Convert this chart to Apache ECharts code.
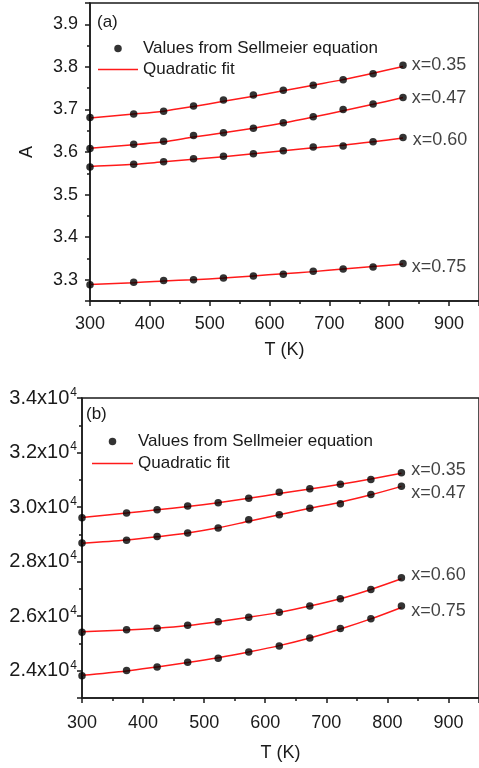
<!DOCTYPE html>
<html>
<head>
<meta charset="utf-8">
<script src="https://cdn.jsdelivr.net/npm/echarts@6/dist/echarts.min.js"></script>
<style>
  html, body { margin: 0; padding: 0; background: #fff; }
  #main { width: 479px; height: 768px; }
</style>
</head>
<body>
<div id="main"></div>
<script>
var T = [300, 373, 423, 473, 523, 573, 623, 673, 723, 773, 823];
var compositions = ['x=0.35', 'x=0.47', 'x=0.60', 'x=0.75'];

// panel (a): A
var aPts35 = [3.681, 3.689, 3.696, 3.708, 3.722, 3.734, 3.745, 3.757, 3.770, 3.784, 3.804];
var aPts47 = [3.608, 3.618, 3.625, 3.639, 3.645, 3.656, 3.669, 3.683, 3.700, 3.713, 3.728];
var aPts60 = [3.565, 3.571, 3.577, 3.584, 3.590, 3.596, 3.603, 3.612, 3.614, 3.624, 3.634];
var aPts75 = [3.288, 3.294, 3.298, 3.300, 3.304, 3.309, 3.313, 3.320, 3.325, 3.330, 3.338];
var aFit35 = [3.680, 3.689, 3.696, 3.707, 3.719, 3.731, 3.744, 3.757, 3.770, 3.785, 3.801];
var aFit47 = [3.609, 3.617, 3.624, 3.635, 3.645, 3.656, 3.668, 3.682, 3.697, 3.712, 3.728];
var aFit60 = [3.566, 3.571, 3.577, 3.583, 3.589, 3.596, 3.603, 3.610, 3.616, 3.624, 3.633];
var aFit75 = [3.289, 3.293, 3.297, 3.300, 3.304, 3.309, 3.314, 3.319, 3.325, 3.331, 3.337];

// panel (b)
var bPts35 = [29610, 29780, 29900, 30040, 30160, 30320, 30540, 30670, 30840, 31010, 31260];
var bPts47 = [28680, 28780, 28920, 29050, 29230, 29540, 29720, 29960, 30120, 30460, 30760];
var bPts60 = [25410, 25500, 25560, 25670, 25800, 25960, 26140, 26370, 26640, 26980, 27410];
var bPts75 = [23820, 24010, 24140, 24310, 24460, 24690, 24910, 25200, 25550, 25910, 26370];
var bFit35 = [29620, 29780, 29900, 30020, 30160, 30320, 30500, 30660, 30840, 31030, 31240];
var bFit47 = [28670, 28790, 28910, 29050, 29240, 29480, 29720, 29960, 30180, 30450, 30760];
var bFit60 = [25430, 25490, 25560, 25660, 25800, 25960, 26140, 26370, 26640, 26980, 27370];
var bFit75 = [23830, 23990, 24140, 24300, 24480, 24690, 24920, 25200, 25530, 25900, 26320];

var ptsName = 'Values from Sellmeier equation';
var fitName = 'Quadratic fit';
var ink = '#1a1a1a';
var red = '#ff1a1a';
var font = 'Liberation Sans';

function pairs(ys) {
    return T.map(function (t, i) { return [t, ys[i]]; });
}

function fitSeries(idx, ys) {
    return {
        name: fitName, type: 'line', xAxisIndex: idx, yAxisIndex: idx,
        data: pairs(ys), smooth: 0.3, symbol: 'none',
        lineStyle: { color: red, width: 1.5 },
        itemStyle: { color: red }, z: 2
    };
}

function ptsSeries(idx, ys, label, dy, dist) {
    return {
        name: ptsName, type: 'scatter', xAxisIndex: idx, yAxisIndex: idx,
        data: pairs(ys), symbolSize: 7.5,
        itemStyle: { color: '#000' }, z: 3,
        label: {
            show: true, position: 'right', distance: dist, offset: [0, dy],
            color: '#111', fontFamily: font, fontSize: 18,
            formatter: function (p) { return p.dataIndex === T.length - 1 ? label : ''; }
        }
    };
}

function xAxis(idx, margin, nameGap) {
    return {
        gridIndex: idx, type: 'value', min: 300, max: 950, interval: 100,
        name: 'T (K)', nameLocation: 'middle', nameGap: nameGap,
        nameTextStyle: { color: ink, fontFamily: font, fontSize: 18 },
        axisLine: { onZero: false, lineStyle: { color: ink, width: 1.5 } },
        axisTick: { inside: false, length: 5, lineStyle: { color: ink, width: 1.5 } },
        minorTick: { show: true, splitNumber: 2, length: 3, lineStyle: { color: ink, width: 1.5 } },
        axisLabel: { color: ink, fontFamily: font, fontSize: 18, margin: margin, showMaxLabel: false },
        splitLine: { show: false }
    };
}

function legend(left, top, width, gap) {
    return {
        data: [
            { name: ptsName, icon: 'circle' },
            { name: fitName, icon: 'path://M0,0H80V3H0Z' }
        ],
        orient: 'vertical', left: left, top: top, padding: 0,
        itemWidth: width, itemHeight: 7.5, itemGap: gap,
        textStyle: { color: ink, fontFamily: font, fontSize: 17 },
        selectedMode: false
    };
}

var myChart = echarts.init(document.getElementById('main'));
var option = {
    animation: false,
    backgroundColor: '#fff',
    title: [
        { text: '(a)', left: 92, top: 9, textStyle: { color: ink, fontFamily: font, fontSize: 17, fontWeight: 'normal' } },
        { text: '(b)', left: 81, top: 401, textStyle: { color: ink, fontFamily: font, fontSize: 17, fontWeight: 'normal' } }
    ],
    legend: [legend(98, 40, 40, 4), legend(92, 433, 41, 5)],
    grid: [
        { left: 90, right: -2, top: 3, bottom: 467, show: true, borderColor: ink, borderWidth: 1.5 },
        { left: 82, right: -5, top: 398, bottom: 70, show: true, borderColor: ink, borderWidth: 1.5 }
    ],
    xAxis: [xAxis(0, 14, 40), xAxis(1, 16, 46)],
    yAxis: [
        {
            gridIndex: 0, type: 'value', min: 3.25, max: 3.95, splitNumber: 7,
            name: 'A', nameLocation: 'middle', nameGap: 54, nameRotate: 90,
            nameTextStyle: { color: ink, fontFamily: font, fontSize: 18 },
            axisLine: { onZero: false, lineStyle: { color: ink, width: 1.5 } },
            axisTick: { inside: false, length: 5, lineStyle: { color: ink, width: 1.5 } },
            minorTick: { show: true, splitNumber: 2, length: 3, lineStyle: { color: ink, width: 1.5 } },
            axisLabel: {
                color: ink, fontFamily: font, fontSize: 18, margin: 12,
                showMinLabel: false, showMaxLabel: false,
                formatter: function (v) { return v.toFixed(1); }
            },
            splitLine: { show: false }
        },
        {
            gridIndex: 1, type: 'value', min: 23000, max: 34000, splitNumber: 5,
            axisLine: { onZero: false, lineStyle: { color: ink, width: 1.5 } },
            axisTick: { inside: false, length: 5, lineStyle: { color: ink, width: 1.5 } },
            minorTick: { show: true, splitNumber: 2, length: 3, lineStyle: { color: ink, width: 1.5 } },
            axisLabel: {
                color: ink, fontFamily: font, margin: 5, showMinLabel: false,
                formatter: function (v) { return '{m|' + (v / 10000).toFixed(1) + 'x10}{e|4}'; },
                rich: {
                    m: { fontSize: 20, fontFamily: font, color: ink },
                    e: { fontSize: 12, fontFamily: font, color: ink, padding: [0, 0, 11, 1] }
                }
            },
            splitLine: { show: false }
        }
    ],
    series: [
        fitSeries(0, aFit35), fitSeries(0, aFit47), fitSeries(0, aFit60), fitSeries(0, aFit75),
        ptsSeries(0, aPts35, compositions[0], 0, 5),
        ptsSeries(0, aPts47, compositions[1], 1, 5),
        ptsSeries(0, aPts60, compositions[2], 3, 6),
        ptsSeries(0, aPts75, compositions[3], 3, 5),
        fitSeries(1, bFit35), fitSeries(1, bFit47), fitSeries(1, bFit60), fitSeries(1, bFit75),
        ptsSeries(1, bPts35, compositions[0], -3, 6),
        ptsSeries(1, bPts47, compositions[1], 7, 6),
        ptsSeries(1, bPts60, compositions[2], -3, 6),
        ptsSeries(1, bPts75, compositions[3], 5, 6)
    ]
};
myChart.setOption(option);
</script>
</body>
</html>
